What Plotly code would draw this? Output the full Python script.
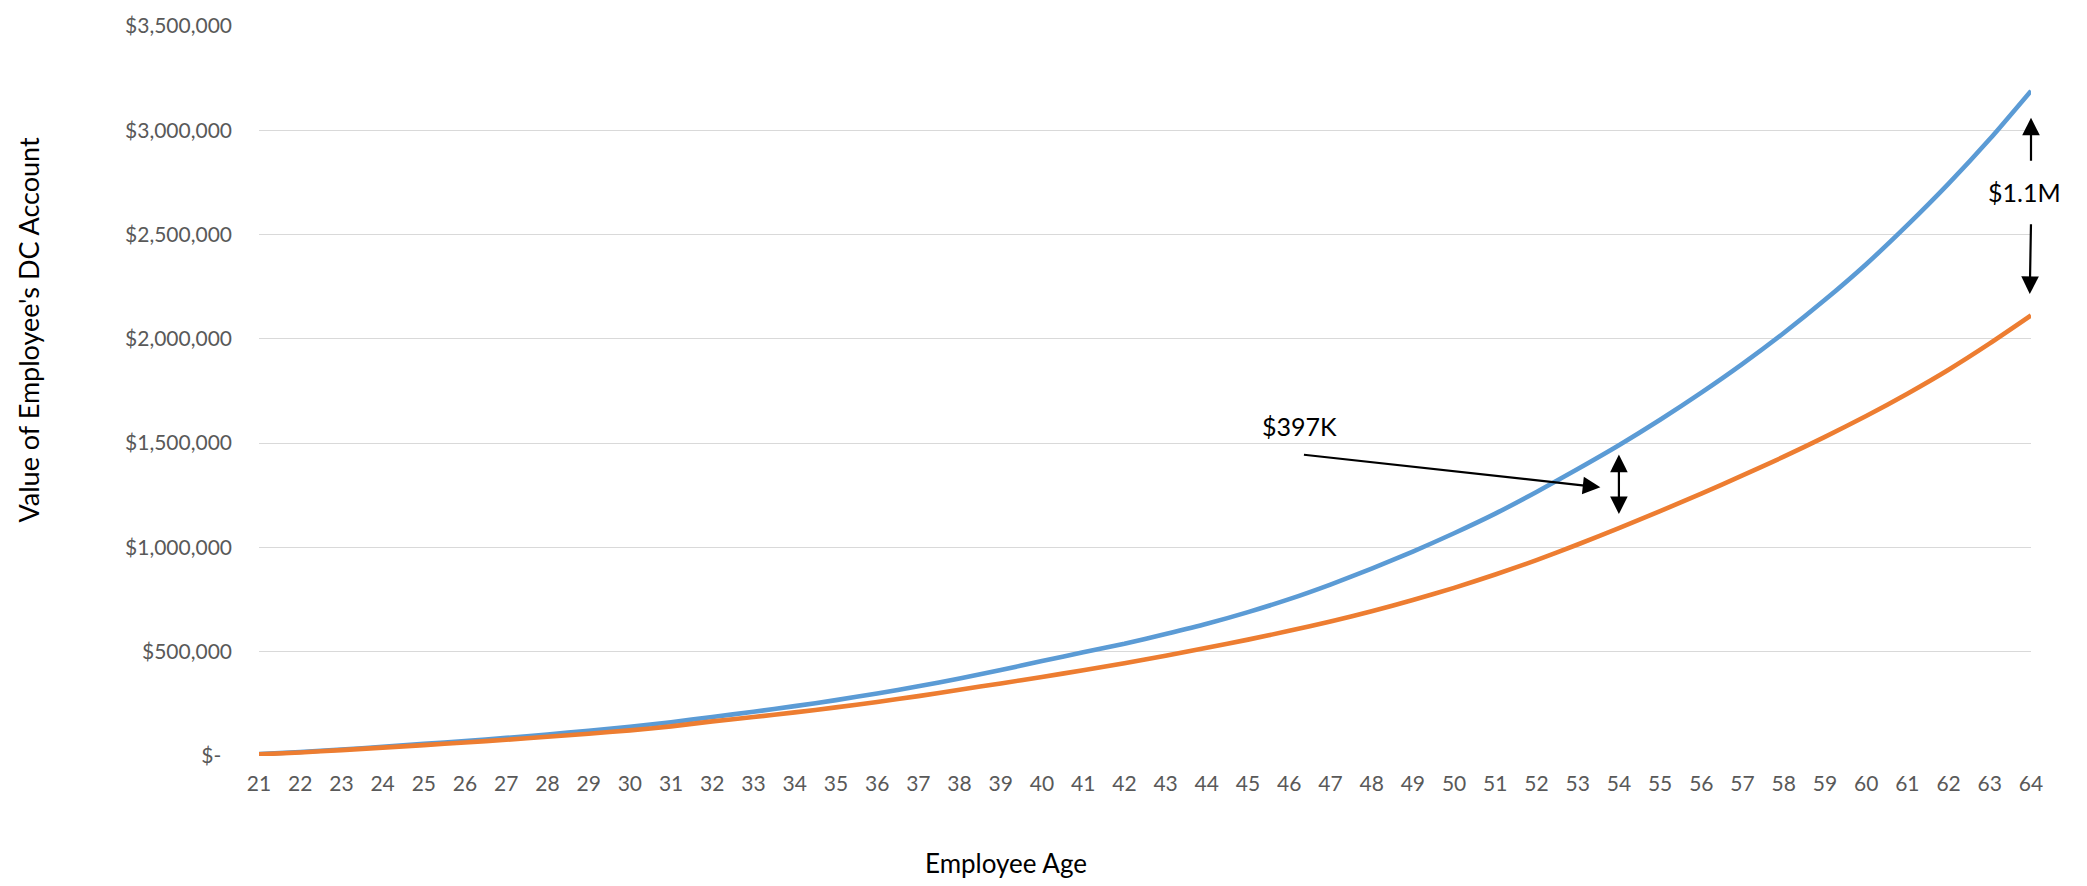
import plotly.graph_objects as go

# Employee age at each year-end
ages = list(range(21, 65))

# Account balance (USD) for the two savings scenarios
balance_blue = [
    9000, 19000, 31000, 44000, 58000, 72000, 87000, 103000, 121000, 140000,
    162000, 187000, 212000, 239000, 268000, 300000, 334000, 372000, 412000, 455000,
    497000, 538000, 585000, 634000, 690000, 752000, 822000, 898000, 980000, 1068000,
    1162000, 1266000, 1376000, 1490000, 1612000, 1742000, 1880000, 2028000, 2187000, 2358000,
    2545000, 2744000, 2958000, 3189000,
]
balance_orange = [
    8000, 17000, 28000, 40000, 52000, 65000, 78000, 92000, 107000, 123000,
    142000, 166000, 187000, 209000, 233000, 259000, 287000, 318000, 348000, 379000,
    411000, 445000, 481000, 519000, 558000, 600000, 645000, 694000, 748000, 806000,
    870000, 939000, 1014000, 1093000, 1174000, 1258000, 1345000, 1435000, 1530000, 1630000,
    1737000, 1852000, 1978000, 2112000,
]

y_tickvals = [0, 500000, 1000000, 1500000, 2000000, 2500000, 3000000, 3500000]
y_ticktext = ["$-\u00a0\u00a0", "$500,000", "$1,000,000", "$1,500,000", "$2,000,000",
              "$2,500,000", "$3,000,000", "$3,500,000"]

FONT = "Lato, 'Open Sans', sans-serif"
BLUE = "#5B9BD5"
ORANGE = "#ED7D31"

fig = go.Figure()
fig.add_trace(go.Scatter(x=ages, y=balance_blue, mode="lines",
                         line=dict(color=BLUE, width=4.6, shape="spline", smoothing=0.6),
                         showlegend=False, hoverinfo="skip"))
fig.add_trace(go.Scatter(x=ages, y=balance_orange, mode="lines",
                         line=dict(color=ORANGE, width=4.6, shape="spline", smoothing=0.6),
                         showlegend=False, hoverinfo="skip"))

# Gap annotations, positioned from the series values
i54 = ages.index(54)
i64 = ages.index(64)
gap54 = balance_blue[i54] - balance_orange[i54]
gap64 = balance_blue[i64] - balance_orange[i64]

arrow = dict(showarrow=True, arrowcolor="black", arrowwidth=2.2, arrowsize=1.6,
             arrowhead=2, xref="x", yref="y", axref="x", ayref="y", text="")

annotations = [
    # double-headed arrow between the curves at age 54
    dict(arrow, x=54, y=balance_blue[i54] - 45000, ax=54, ay=balance_orange[i54] + 60000,
         arrowside="end+start"),
    # pointer from the label to the double arrow
    dict(arrow, x=53.55, y=1288000, ax=46.32, ay=1445000),
    dict(x=45.3, y=1583000, xref="x", yref="y", text=f"${gap54/1000:.0f}K",
         showarrow=False, xanchor="left", yanchor="middle",
         font=dict(family=FONT, size=25, color="black")),
    # arrows toward the curves at the final age
    dict(arrow, x=64, y=3060000, ax=64, ay=2847000),
    dict(arrow, x=63.97, y=2215000, ax=64, ay=2557000),
    dict(x=63.85, y=2705000, xref="x", yref="y", text=f"${gap64/1e6:.1f}M",
         showarrow=False, xanchor="center", yanchor="middle",
         font=dict(family=FONT, size=25, color="black")),
    # axis titles
    dict(x=1006, y=864, text="Employee Age", showarrow=False,
         xanchor="center", yanchor="middle",
         font=dict(family=FONT, size=26, color="black")),
    dict(x=29, y=326, text="Value of Employee's DC Account", showarrow=False, textangle=-90,
         xanchor="center", yanchor="middle",
         font=dict(family=FONT, size=27, color="black")),
]

# convert the two title positions from pixels to paper coordinates
W, H = 2087, 886
L, R, T, B = 259, 56, 20, 130
pw, ph = W - L - R, H - T - B
for a in annotations[-2:]:
    px, py = a["x"], a["y"]
    a["x"] = (px - L) / pw
    a["y"] = (H - B - py) / ph
    a["xref"] = "paper"
    a["yref"] = "paper"

fig.update_layout(
    width=W, height=H,
    margin=dict(l=L, r=R, t=T, b=B),
    paper_bgcolor="white", plot_bgcolor="white",
    font=dict(family=FONT, size=21, color="#595959"),
    annotations=annotations,
)
fig.update_xaxes(range=[21, 64], tickmode="array", tickvals=ages,
                 ticktext=[str(a) for a in ages], showgrid=False, zeroline=False,
                 showline=False, ticks="", ticklabelstandoff=13,
                 tickfont=dict(family=FONT, size=21, color="#595959"))
fig.update_yaxes(range=[0, 3500000], tickmode="array", tickvals=y_tickvals,
                 ticktext=y_ticktext, showgrid=True, gridcolor="#D9D9D9", gridwidth=1.3,
                 zeroline=False, showline=False, ticks="", ticklabelstandoff=26,
                 tickfont=dict(family=FONT, size=21, color="#595959"))

fig.write_html("out.html")
